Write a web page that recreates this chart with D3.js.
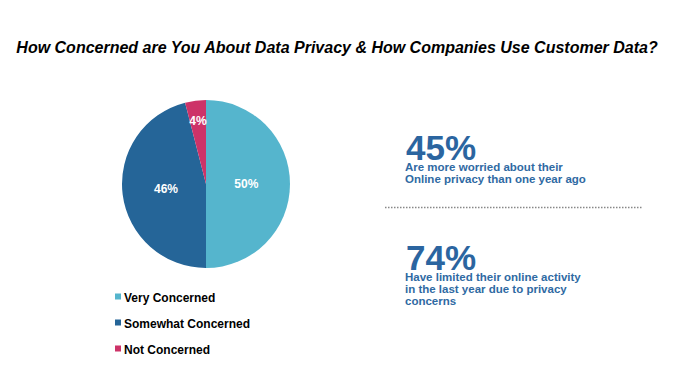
<!DOCTYPE html>
<html><head><meta charset="utf-8">
<script src="https://cdn.jsdelivr.net/npm/d3@7"></script>
<style>body{margin:0;background:#fff;} svg{display:block;}</style>
</head><body>
<svg id="c" width="679" height="384"></svg>
<script>
const categories = ["Very Concerned", "Somewhat Concerned", "Not Concerned"];
const values = [50, 46, 4];
const colors = ["#55b5cd", "#256598", "#cd3368"];
const stats = [
  {value: "45%", lines: ["Are more worried about their", "Online privacy than one year ago"]},
  {value: "74%", lines: ["Have limited their online activity", "in the last year due to privacy", "concerns"]}
];

const svg = d3.select("#c");
const font = "'Liberation Sans', Arial, sans-serif";

svg.append("text").attr("x", 337).attr("y", 53).attr("text-anchor", "middle")
  .attr("font-family", font).attr("font-weight", "bold").attr("font-style", "italic")
  .attr("font-size", 16).attr("fill", "#000")
  .text("How Concerned are You About Data Privacy & How Companies Use Customer Data?");

const cx = 206, cy = 184, r = 84;
const pie = d3.pie().sort(null).value(d => d)(values);
const arc = d3.arc().innerRadius(0).outerRadius(r);
const g = svg.append("g").attr("transform", `translate(${cx},${cy})`);
g.selectAll("path").data(pie).join("path").attr("d", arc).attr("fill", (d, i) => colors[i]);
const labelArc = d3.arc().innerRadius(r * 0.48).outerRadius(r * 0.48);
const labelArcSmall = d3.arc().innerRadius(r * 0.76).outerRadius(r * 0.76);
g.selectAll("text").data(pie).join("text")
  .attr("transform", (d, i) => `translate(${(values[i] < 10 ? labelArcSmall : labelArc).centroid(d)})`)
  .attr("text-anchor", "middle").attr("dy", "0.36em")
  .attr("font-family", font).attr("font-weight", "bold").attr("font-size", 12).attr("fill", "#fff")
  .text((d, i) => values[i] + "%");

const leg = svg.append("g");
categories.forEach((c, i) => {
  const y = 298 + i * 26;
  leg.append("rect").attr("x", 115).attr("y", y - 4.5).attr("width", 6).attr("height", 6).attr("fill", colors[i]);
  leg.append("text").attr("x", 124).attr("y", y).attr("dy", "0.35em")
    .attr("font-family", font).attr("font-weight", "bold").attr("font-size", 12).attr("fill", "#000").text(c);
});

const statY = [160, 270];
stats.forEach((s, i) => {
  const y = statY[i];
  svg.append("text").attr("x", 406).attr("y", y).attr("font-family", font).attr("font-weight", "bold")
    .attr("font-size", 35).attr("fill", "#2b65a0").text(s.value);
  s.lines.forEach((l, j) => {
    svg.append("text").attr("x", 405).attr("y", y + 11 + j * 12).attr("font-family", font).attr("font-weight", "bold")
      .attr("font-size", 11.5).attr("fill", "#2f6aa3").text(l);
  });
});
svg.append("line").attr("x1", 385).attr("x2", 643).attr("y1", 207.5).attr("y2", 207.5)
  .attr("stroke", "#888").attr("stroke-width", 1.5).attr("stroke-dasharray", "1.5,1.5");
</script>
</body></html>
